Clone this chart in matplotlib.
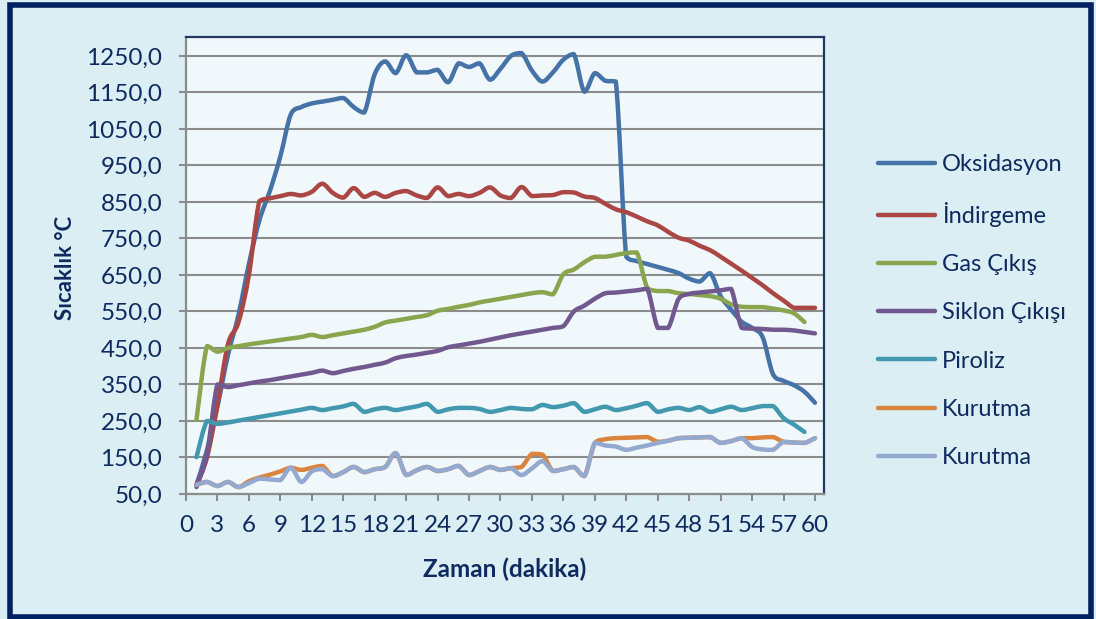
import numpy as np
import matplotlib.pyplot as plt
from matplotlib.path import Path
from matplotlib.patches import PathPatch, Rectangle
from matplotlib.lines import Line2D

plt.rcParams['font.family'] = ['Lato', 'DejaVu Sans']

minutes = list(range(1, 61))

oksidasyon = [75, 170, 290, 430, 540, 680, 800, 880, 975, 1090,
              1110, 1120, 1125, 1130, 1135, 1110, 1095, 1200, 1235, 1203,
              1252, 1205, 1205, 1212, 1178, 1230, 1220, 1230, 1185, 1215,
              1250, 1258, 1210, 1180, 1205, 1240, 1255, 1152, 1203, 1182,
              1180, 700, 688, 680, 672, 664, 655, 640, 632, 655,
              592, 555, 522, 505, 480, 378, 360, 348, 330, 300]

indirgeme = [75, 150, 294, 460, 520, 650, 852, 860, 866, 872,
             868, 878, 900, 875, 862, 888, 864, 875, 864, 875,
             880, 868, 861, 890, 866, 872, 866, 875, 890, 868,
             861, 891, 866, 868, 869, 877, 876, 865, 861, 845,
             830, 822, 810, 797, 786, 768, 752, 744, 730, 718,
             700, 681, 662, 642, 622, 600, 580, 560, 560, 560]

gas_cikis = [253, 455, 440, 450, 455, 460, 464, 468, 472, 476,
             480, 486, 480, 485, 490, 495, 500, 508, 520, 525,
             530, 535, 540, 552, 557, 563, 568, 575, 580, 585,
             590, 595, 600, 603, 597, 652, 665, 685, 700, 700,
             705, 710, 712, 615, 606, 606, 600, 598, 595, 592,
             585, 570, 563, 562, 562, 558, 553, 545, 521]

siklon_cikisi = [69, 160, 350, 343, 348, 353, 358, 362, 367, 372,
                 377, 382, 388, 381, 387, 393, 398, 404, 410, 422,
                 428, 432, 437, 442, 452, 457, 462, 467, 473, 479,
                 485, 490, 495, 500, 505, 510, 550, 566, 585, 600,
                 602, 605, 608, 612, 505, 505, 585, 598, 602, 605,
                 608, 612, 505, 503, 502, 500, 500, 498, 494, 490]

piroliz = [151, 250, 242, 246, 251, 256, 261, 266, 271, 276,
           281, 286, 280, 285, 290, 297, 275, 282, 286, 280,
           285, 290, 297, 275, 282, 286, 286, 283, 275, 280,
           286, 283, 282, 294, 288, 292, 299, 275, 282, 289,
           280, 285, 292, 299, 275, 282, 286, 280, 288, 275,
           282, 289, 280, 285, 291, 291, 258, 240, 220]

kurutma_1 = [75, 83, 72, 83, 69, 85, 95, 103, 112, 122,
             116, 122, 127, 99, 110, 124, 110, 118, 124, 162,
             102, 115, 124, 113, 118, 127, 102, 113, 124, 116,
             121, 124, 160, 158, 113, 118, 124, 99, 190, 200,
             203, 204, 205, 206, 193, 196, 203, 204, 205, 206,
             190, 195, 203, 203, 205, 206, 193, 191, 190, 203]

kurutma_2 = [75, 83, 72, 83, 69, 80, 92, 90, 88, 122,
             83, 112, 118, 99, 110, 124, 110, 118, 124, 162,
             102, 115, 124, 113, 118, 127, 102, 113, 124, 116,
             121, 102, 120, 140, 113, 118, 124, 99, 190, 183,
             180, 171, 177, 183, 190, 196, 203, 204, 205, 206,
             190, 195, 203, 179, 172, 171, 193, 191, 190, 203]

series = [('Oksidasyon', oksidasyon, '#4572A7'),
          ('İndirgeme', indirgeme, '#AA4643'),
          ('Gas Çıkış', gas_cikis, '#89A54E'),
          ('Siklon Çıkışı', siklon_cikisi, '#71588F'),
          ('Piroliz', piroliz, '#4198AF'),
          ('Kurutma', kurutma_1, '#DB843D'),
          ('Kurutma', kurutma_2, '#93A9CF')]

text_col = '#0E2A5E'
grid_col = '#8C8C8C'


def smooth_path(x, y):
    # excel-like smoothed line: bezier segments through the data points,
    # control points kept inside each segment's range (no overshoot)
    x = np.asarray(x, float)
    y = np.asarray(y, float)
    n = len(x)
    verts = [(x[0], y[0])]
    codes = [Path.MOVETO]
    for i in range(n - 1):
        a = max(i - 1, 0)
        b = min(i + 2, n - 1)
        lo, hi = min(y[i], y[i + 1]), max(y[i], y[i + 1])
        c1y = np.clip(y[i] + (y[i + 1] - y[a]) / 6, lo, hi)
        c2y = np.clip(y[i + 1] - (y[b] - y[i]) / 6, lo, hi)
        c1 = (x[i] + (x[i + 1] - x[a]) / 6, c1y)
        c2 = (x[i + 1] - (x[b] - x[i]) / 6, c2y)
        verts += [c1, c2, (x[i + 1], y[i + 1])]
        codes += [Path.CURVE4] * 3
    return Path(verts, codes)


fig = plt.figure(figsize=(10.96, 6.19), dpi=100, facecolor='#DBEEF4')
fig.add_artist(Rectangle((0.009, 0.004), 0.986, 0.988, transform=fig.transFigure,
                         fill=False, edgecolor='#002060', lw=4))

ax = fig.add_axes([186 / 1096, 1 - 494 / 619, 638 / 1096, 457 / 619])
ax.set_facecolor('#F1F8FB')

handles = []
for name, vals, col in series:
    xs = minutes[:len(vals)]
    ax.add_patch(PathPatch(smooth_path(xs, vals), fill=False, edgecolor=col,
                           lw=3.2, capstyle='round', joinstyle='round', zorder=3))
    handles.append(Line2D([], [], color=col, lw=3.2, solid_capstyle='round', label=name))

ax.set_xlim(0, 60.86)
ax.set_ylim(50, 1302)
ax.set_xticks(range(0, 61, 3))
yt = np.arange(50, 1251, 100)
ax.set_yticks(yt)
ax.set_yticklabels([f'{v:.1f}'.replace('.', ',') for v in yt])
ax.yaxis.grid(True, color=grid_col, lw=1.5)
ax.set_axisbelow(True)

for side in ['left', 'bottom']:
    ax.spines[side].set_color(grid_col)
    ax.spines[side].set_linewidth(1.6)
for side in ['top', 'right']:
    ax.spines[side].set_color('#1F3864')
    ax.spines[side].set_linewidth(1.6)

ax.tick_params(direction='out', length=5, width=1.5, color=grid_col,
               labelsize=17.5, labelcolor=text_col)
ax.tick_params(axis='y', pad=12)
ax.tick_params(axis='x', pad=10)

fig.text(65 / 1096, 1 - 268 / 619, 'Sıcaklık °C', rotation=90, ha='center', va='center',
         fontsize=16, fontweight='bold', color=text_col)
fig.text(505 / 1096, 1 - 569 / 619, 'Zaman (dakika)', ha='center', va='center',
         fontsize=17.5, fontweight='bold', color=text_col)

leg = fig.legend(handles=handles, loc='upper left', bbox_to_anchor=(878 / 1096, 1 - 154 / 619),
                 frameon=False, fontsize=17, borderpad=0, borderaxespad=0,
                 handlelength=2.4, handletextpad=0.3, labelspacing=1.15)
for t in leg.get_texts():
    t.set_color(text_col)

fig.savefig('out.png', dpi=100, facecolor=fig.get_facecolor())
